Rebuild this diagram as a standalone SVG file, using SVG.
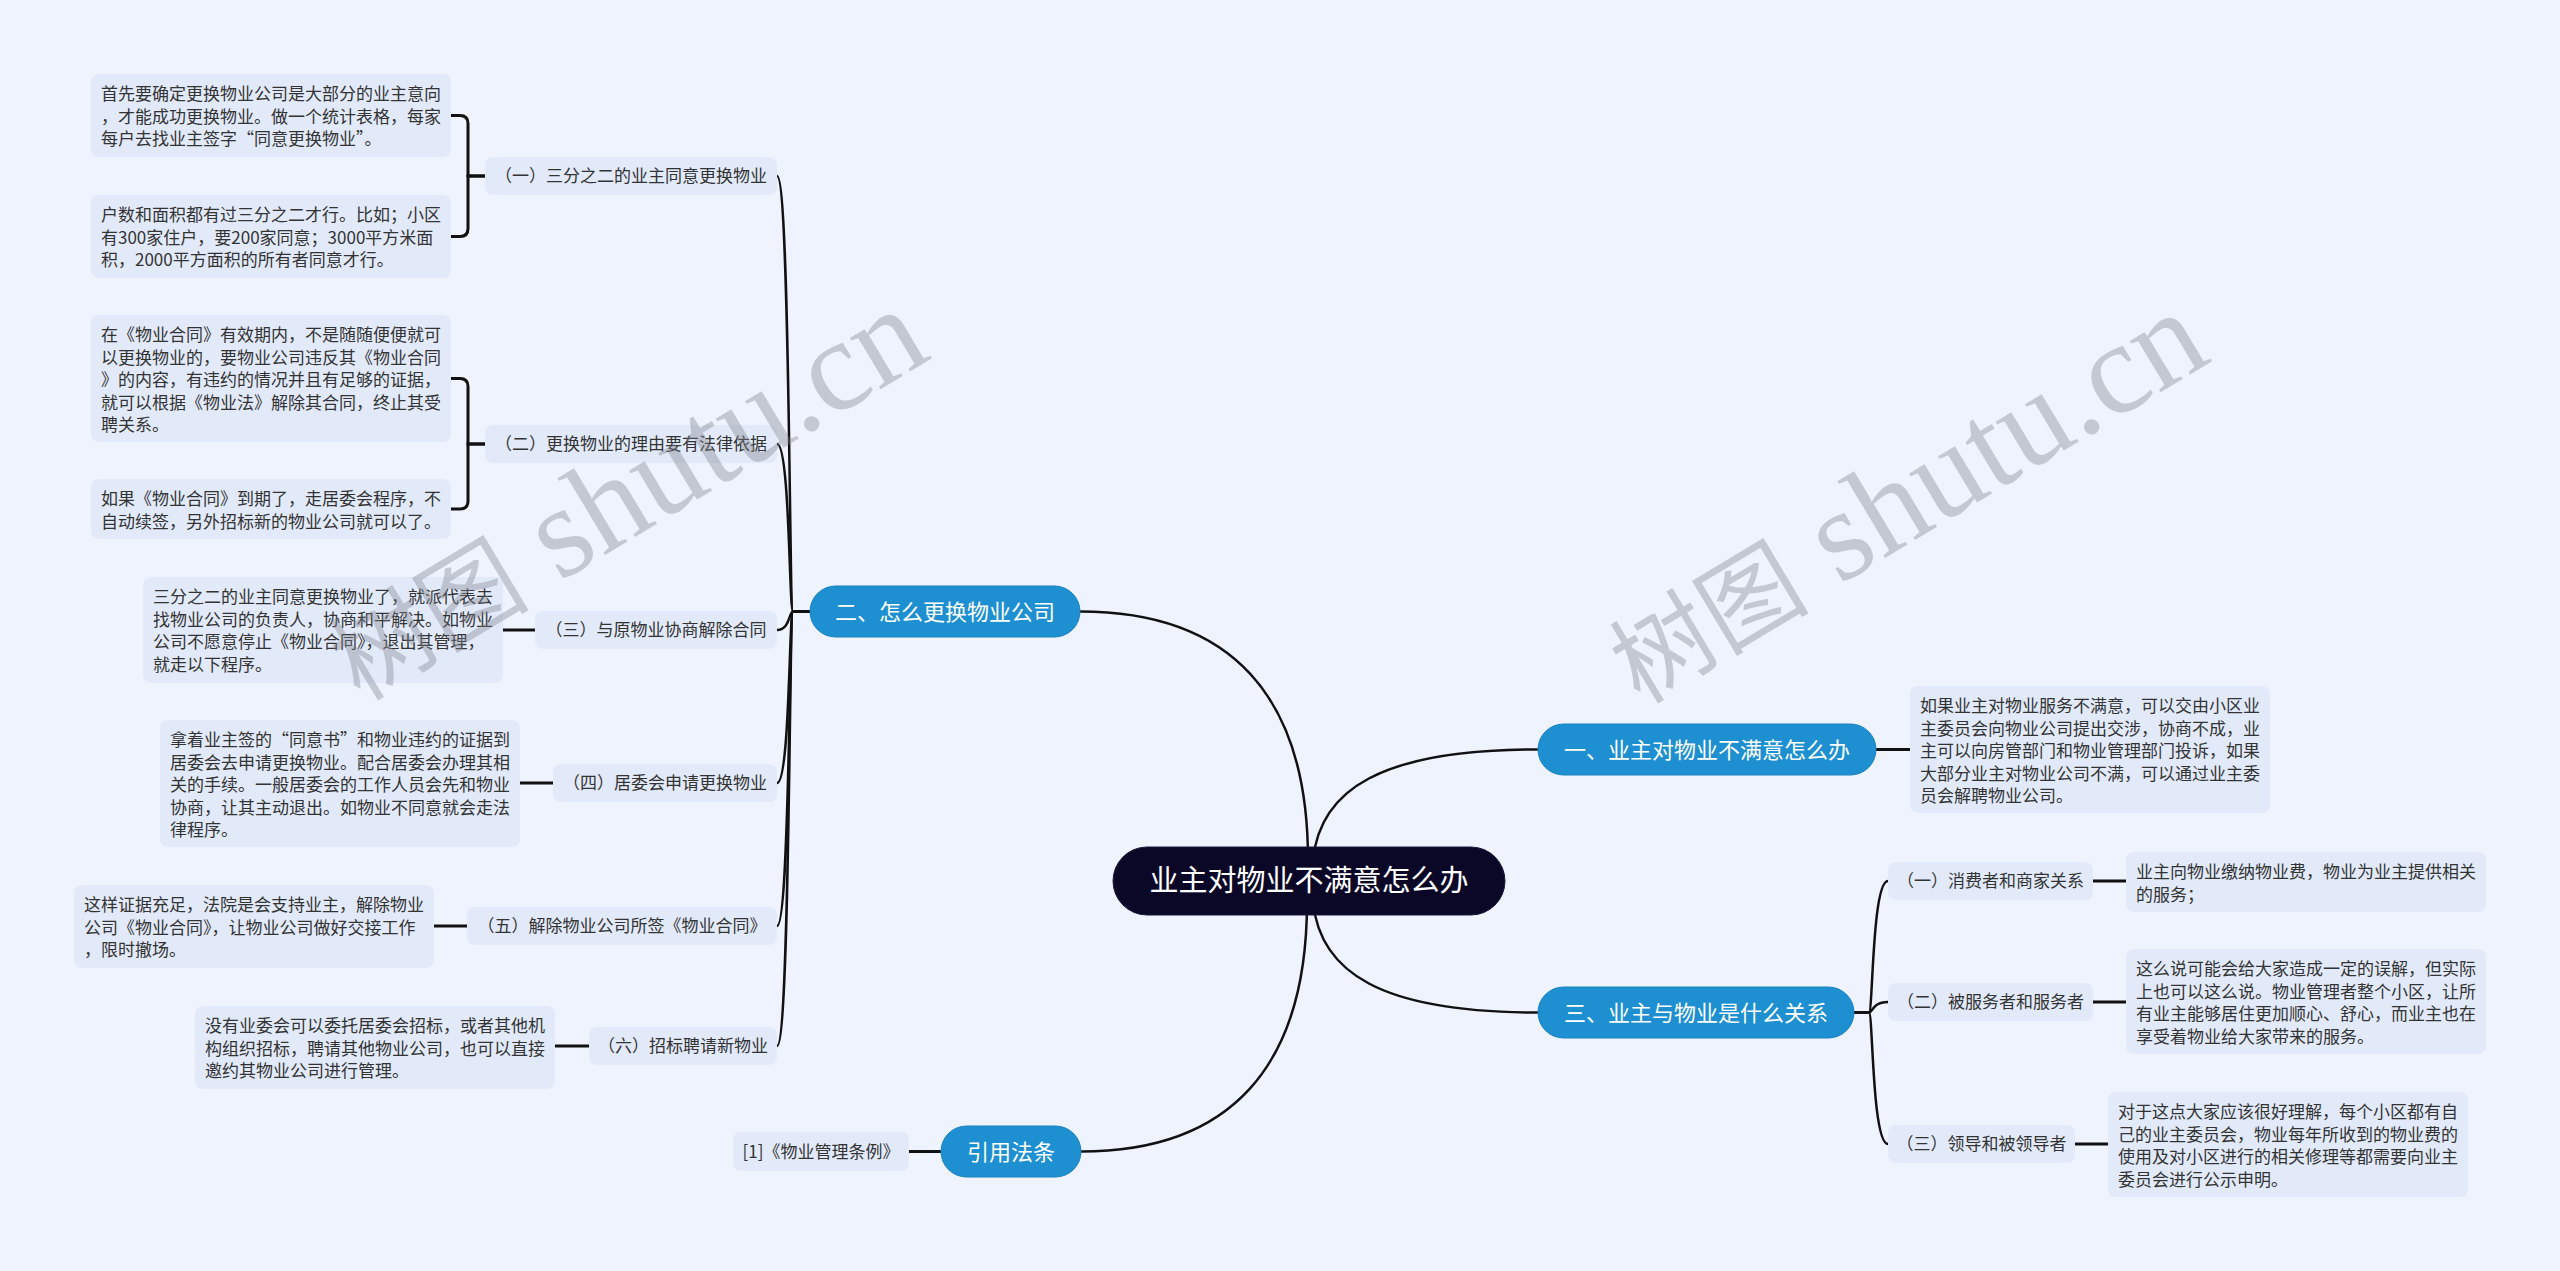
<svg xmlns="http://www.w3.org/2000/svg" width="2560" height="1271" viewBox="0 0 2560 1271">
<style>
.bg{fill:#eef3fd}
.box{fill:#e2eafa}
.t{font-family:"Noto Sans CJK SC","Noto Sans",sans-serif;font-size:17px;fill:#333}
.tc{font-family:"Noto Sans CJK SC","Noto Sans",sans-serif;font-size:17px;fill:#333;text-anchor:middle}
.br{fill:#1e8fd0;stroke:#1a82c0;stroke-width:1}
.bt{font-family:"Noto Sans CJK SC","Noto Sans",sans-serif;font-size:22px;fill:#fff;text-anchor:middle}
.ct{font-family:"Noto Sans CJK SC","Noto Sans",sans-serif;font-size:29px;fill:#fff;text-anchor:middle}
.ln{fill:none;stroke:#111;stroke-width:2.5;stroke-linecap:round}
.ls{fill:none;stroke:#111;stroke-width:3}
.wm{font-family:"Liberation Serif","Noto Sans CJK SC",serif;font-size:130px;fill:rgb(128,132,142);opacity:0.38}
</style>
<rect class="bg" x="0" y="0" width="2560" height="1271"/>
<g id="connectors">
<path class="ln" d="M1308,860 C1308,695 1230,611.5 1080,611.5"/>
<path class="ln" d="M1313,860 C1320,790 1380,749.5 1538,749.5"/>
<path class="ln" d="M1313,902 C1320,972 1380,1012.5 1538,1012.5"/>
<path class="ln" d="M1307,902 C1307,1067 1230,1151.5 1081,1151.5"/>
<path class="ln" d="M810,611.5 H793 C789,611.5 790,176 777,176"/>
<path class="ln" d="M810,611.5 H793 C789,611.5 790,444 777,444"/>
<path class="ln" d="M810,611.5 H793 C789,611.5 790,630 777,630"/>
<path class="ln" d="M810,611.5 H793 C789,611.5 790,783 777,783"/>
<path class="ln" d="M810,611.5 H793 C789,611.5 790,926 777,926"/>
<path class="ln" d="M810,611.5 H793 C789,611.5 790,1046 777,1046"/>
<path class="ln" d="M1854,1012.5 H1869 C1873,1012.5 1872,881 1888,881"/>
<path class="ln" d="M1854,1012.5 H1869 C1873,1012.5 1872,1002 1888,1002"/>
<path class="ln" d="M1854,1012.5 H1869 C1873,1012.5 1872,1144 1888,1144"/>
<path class="ls" d="M485,176 H468 V123.5 Q468,115.5 460,115.5 H451"/>
<path class="ls" d="M485,176 H468 V228.5 Q468,236.5 460,236.5 H451"/>
<path class="ls" d="M485,444 H468 V386.5 Q468,378.5 460,378.5 H451"/>
<path class="ls" d="M485,444 H468 V501 Q468,509 460,509 H451"/>
<path class="ls" d="M503,630 H535"/>
<path class="ls" d="M520,783 H553"/>
<path class="ls" d="M434,926 H467"/>
<path class="ls" d="M555,1046 H589"/>
<path class="ls" d="M1876,749.5 H1910"/>
<path class="ls" d="M2093,881 H2126"/>
<path class="ls" d="M2093,1002 H2126"/>
<path class="ls" d="M2075,1144 H2108"/>
<path class="ls" d="M909,1151.5 H941"/>
</g>
<g id="root">
<rect x="1113" y="847" width="392" height="68" rx="34" fill="#0b0827" stroke="#1a1838" stroke-width="1"/>
<text class="ct" x="1309" y="891">业主对物业不满意怎么办</text>
</g>
<g id="branch-2">
<rect class="br" x="810" y="586" width="270" height="51" rx="25.5"/>
<text class="bt" x="945" y="619.5">二、怎么更换物业公司</text>
</g>
<g id="branch-1">
<rect class="br" x="1538" y="724" width="338" height="51" rx="25.5"/>
<text class="bt" x="1707" y="757.5">一、业主对物业不满意怎么办</text>
</g>
<g id="branch-3">
<rect class="br" x="1538" y="987" width="316" height="51" rx="25.5"/>
<text class="bt" x="1696" y="1020.5">三、业主与物业是什么关系</text>
</g>
<g id="branch-4">
<rect class="br" x="941" y="1126" width="140" height="51" rx="25.5"/>
<text class="bt" x="1011" y="1159.5">引用法条</text>
</g>
<g id="sub-2-1">
<rect class="box" x="485" y="157" width="292" height="38" rx="8"/>
<text class="tc" x="631" y="182">（一）三分之二的业主同意更换物业</text>
</g>
<g id="leaf-2-1-a">
<rect class="box" x="91" y="74" width="360" height="83" rx="8"/>
<text class="t" x="101" y="100">首先要确定更换物业公司是大部分的业主意向</text>
<text class="t" x="101" y="122.5">，才能成功更换物业。做一个统计表格，每家</text>
<text class="t" x="101" y="145">每户去找业主签字“同意更换物业”。</text>
</g>
<g id="leaf-2-1-b">
<rect class="box" x="91" y="195" width="360" height="83" rx="8"/>
<text class="t" x="101" y="221">户数和面积都有过三分之二才行。比如；小区</text>
<text class="t" x="101" y="243.5">有300家住户，要200家同意；3000平方米面</text>
<text class="t" x="101" y="266">积，2000平方面积的所有者同意才行。</text>
</g>
<g id="sub-2-2">
<rect class="box" x="485" y="425" width="292" height="38" rx="8"/>
<text class="tc" x="631" y="450">（二）更换物业的理由要有法律依据</text>
</g>
<g id="leaf-2-2-a">
<rect class="box" x="91" y="315" width="360" height="127" rx="8"/>
<text class="t" x="101" y="341">在《物业合同》有效期内，不是随随便便就可</text>
<text class="t" x="101" y="363.5">以更换物业的，要物业公司违反其《物业合同</text>
<text class="t" x="101" y="386">》的内容，有违约的情况并且有足够的证据，</text>
<text class="t" x="101" y="408.5">就可以根据《物业法》解除其合同，终止其受</text>
<text class="t" x="101" y="431">聘关系。</text>
</g>
<g id="leaf-2-2-b">
<rect class="box" x="91" y="479" width="360" height="60" rx="8"/>
<text class="t" x="101" y="505">如果《物业合同》到期了，走居委会程序，不</text>
<text class="t" x="101" y="527.5">自动续签，另外招标新的物业公司就可以了。</text>
</g>
<g id="sub-2-3">
<rect class="box" x="535" y="611" width="242" height="38" rx="8"/>
<text class="tc" x="656" y="636">（三）与原物业协商解除合同</text>
</g>
<g id="leaf-2-3">
<rect class="box" x="143" y="577" width="360" height="106" rx="8"/>
<text class="t" x="153" y="603">三分之二的业主同意更换物业了，就派代表去</text>
<text class="t" x="153" y="625.5">找物业公司的负责人，协商和平解决。如物业</text>
<text class="t" x="153" y="648">公司不愿意停止《物业合同》，退出其管理，</text>
<text class="t" x="153" y="670.5">就走以下程序。</text>
</g>
<g id="sub-2-4">
<rect class="box" x="553" y="764" width="224" height="38" rx="8"/>
<text class="tc" x="665" y="789">（四）居委会申请更换物业</text>
</g>
<g id="leaf-2-4">
<rect class="box" x="160" y="720" width="360" height="127" rx="8"/>
<text class="t" x="170" y="746">拿着业主签的“同意书”和物业违约的证据到</text>
<text class="t" x="170" y="768.5">居委会去申请更换物业。配合居委会办理其相</text>
<text class="t" x="170" y="791">关的手续。一般居委会的工作人员会先和物业</text>
<text class="t" x="170" y="813.5">协商，让其主动退出。如物业不同意就会走法</text>
<text class="t" x="170" y="836">律程序。</text>
</g>
<g id="sub-2-5">
<rect class="box" x="467" y="907" width="310" height="38" rx="8"/>
<text class="tc" x="622" y="932">（五）解除物业公司所签《物业合同》</text>
</g>
<g id="leaf-2-5">
<rect class="box" x="74" y="885" width="360" height="83" rx="8"/>
<text class="t" x="84" y="911">这样证据充足，法院是会支持业主，解除物业</text>
<text class="t" x="84" y="933.5">公司《物业合同》，让物业公司做好交接工作</text>
<text class="t" x="84" y="956">，限时撤场。</text>
</g>
<g id="sub-2-6">
<rect class="box" x="589" y="1027" width="188" height="38" rx="8"/>
<text class="tc" x="683" y="1052">（六）招标聘请新物业</text>
</g>
<g id="leaf-2-6">
<rect class="box" x="195" y="1006" width="360" height="83" rx="8"/>
<text class="t" x="205" y="1032">没有业委会可以委托居委会招标，或者其他机</text>
<text class="t" x="205" y="1054.5">构组织招标，聘请其他物业公司，也可以直接</text>
<text class="t" x="205" y="1077">邀约其物业公司进行管理。</text>
</g>
<g id="leaf-1">
<rect class="box" x="1910" y="686" width="360" height="127" rx="8"/>
<text class="t" x="1920" y="712">如果业主对物业服务不满意，可以交由小区业</text>
<text class="t" x="1920" y="734.5">主委员会向物业公司提出交涉，协商不成，业</text>
<text class="t" x="1920" y="757">主可以向房管部门和物业管理部门投诉，如果</text>
<text class="t" x="1920" y="779.5">大部分业主对物业公司不满，可以通过业主委</text>
<text class="t" x="1920" y="802">员会解聘物业公司。</text>
</g>
<g id="sub-3-1">
<rect class="box" x="1888" y="862" width="205" height="38" rx="8"/>
<text class="tc" x="1990.5" y="887">（一）消费者和商家关系</text>
</g>
<g id="leaf-3-1">
<rect class="box" x="2126" y="852" width="360" height="60" rx="8"/>
<text class="t" x="2136" y="878">业主向物业缴纳物业费，物业为业主提供相关</text>
<text class="t" x="2136" y="900.5">的服务；</text>
</g>
<g id="sub-3-2">
<rect class="box" x="1888" y="983" width="205" height="38" rx="8"/>
<text class="tc" x="1990.5" y="1008">（二）被服务者和服务者</text>
</g>
<g id="leaf-3-2">
<rect class="box" x="2126" y="949" width="360" height="105" rx="8"/>
<text class="t" x="2136" y="975">这么说可能会给大家造成一定的误解，但实际</text>
<text class="t" x="2136" y="997.5">上也可以这么说。物业管理者整个小区，让所</text>
<text class="t" x="2136" y="1020">有业主能够居住更加顺心、舒心，而业主也在</text>
<text class="t" x="2136" y="1042.5">享受着物业给大家带来的服务。</text>
</g>
<g id="sub-3-3">
<rect class="box" x="1888" y="1125" width="187" height="38" rx="8"/>
<text class="tc" x="1981.5" y="1150">（三）领导和被领导者</text>
</g>
<g id="leaf-3-3">
<rect class="box" x="2108" y="1092" width="360" height="105" rx="8"/>
<text class="t" x="2118" y="1118">对于这点大家应该很好理解，每个小区都有自</text>
<text class="t" x="2118" y="1140.5">己的业主委员会，物业每年所收到的物业费的</text>
<text class="t" x="2118" y="1163">使用及对小区进行的相关修理等都需要向业主</text>
<text class="t" x="2118" y="1185.5">委员会进行公示申明。</text>
</g>
<g id="leaf-4">
<rect class="box" x="733" y="1132" width="176" height="39" rx="8"/>
<text class="tc" x="821" y="1157.5">[1]《物业管理条例》</text>
</g>
<g id="watermark">
<text class="wm" x="360" y="702" transform="rotate(-31 360 702)"><tspan font-size="100" font-family="Noto Sans CJK SC, sans-serif">树图</tspan> shutu.cn</text>
<text class="wm" x="1640" y="705" transform="rotate(-31 1640 705)"><tspan font-size="100" font-family="Noto Sans CJK SC, sans-serif">树图</tspan> shutu.cn</text>
</g>
</svg>
